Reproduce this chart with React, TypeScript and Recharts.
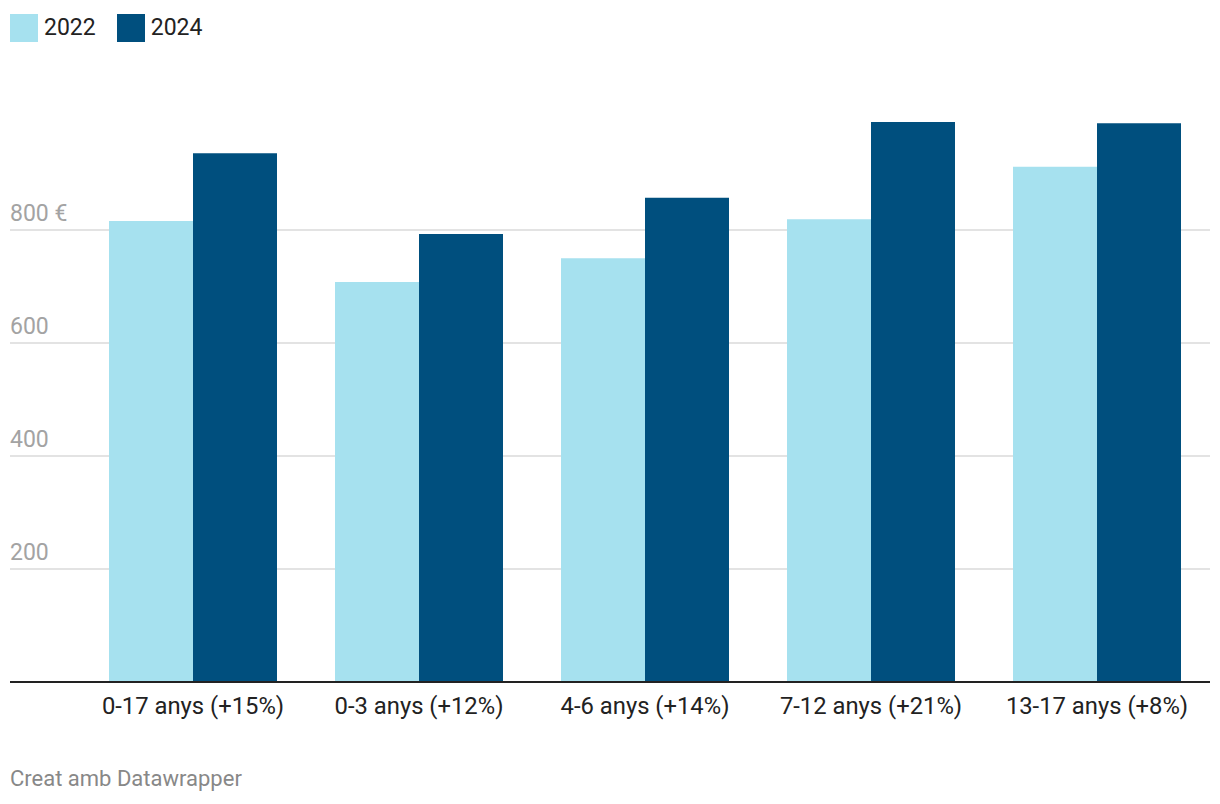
import React from 'react';
import { BarChart, Bar, XAxis, YAxis, CartesianGrid } from 'recharts';

const categories = ['0-17 anys (+15%)', '0-3 anys (+12%)', '4-6 anys (+14%)', '7-12 anys (+21%)', '13-17 anys (+8%)'];
const values2022 = [816, 708, 750, 819, 912];
const values2024 = [936, 793, 857, 991, 989];
const yDomain = [0, 1000];
const yTicks = [0, 200, 400, 600, 800];
const yTickLabels = ['', '200', '400', '600', '800 €'];

const series = [
  { key: 'y2022', name: '2022', color: '#a6e1ef' },
  { key: 'y2024', name: '2024', color: '#004f7e' },
];

const data = categories.map((c, i) => ({ name: c, y2022: values2022[i], y2024: values2024[i] }));

const FONT = 'Roboto, "Noto Sans", sans-serif';

const renderYTick = (props: any) => {
  const { y, payload } = props;
  const idx = yTicks.indexOf(payload.value);
  return (
    <text key={`yt-${payload.value}`} x={10} y={y - 9} fill="#a3a3a3" fontSize={23} fontFamily={FONT} textAnchor="start">
      {yTickLabels[idx] ?? ''}
    </text>
  );
};

const renderXTick = (props: any) => {
  const { x, y, payload } = props;
  return (
    <text key={`xt-${payload.value}`} x={x} y={y + 32} fill="#222" fontSize={23.8} fontFamily={FONT} textAnchor="middle">
      {payload.value}
    </text>
  );
};

// gridlines only at the labelled ticks, behind the bars
const gridRows = ({ offset }: any) =>
  yTicks
    .filter((v) => v > 0)
    .map((v) => offset.top + offset.height * (1 - (v - yDomain[0]) / (yDomain[1] - yDomain[0])));

export default function App() {
  return (
    <div style={{ position: 'absolute', left: 0, top: 0, width: 1220, height: 804, background: '#fff', fontFamily: FONT }}>
      <div style={{ position: 'absolute', left: 10, top: 14, display: 'flex', alignItems: 'center', color: '#222', fontSize: 23 }}>
        {series.map((s) => (
          <div key={s.key} style={{ display: 'flex', alignItems: 'center', marginRight: 21 }}>
            <div style={{ width: 28, height: 28, background: s.color, marginRight: 6 }} />
            <span style={{ lineHeight: '28px' }}>{s.name}</span>
          </div>
        ))}
      </div>
      <BarChart
        width={1220}
        height={804}
        data={data}
        margin={{ top: 117, right: 10, bottom: 82, left: 9 }}
        barCategoryGap={29}
        barGap={0}
      >
        <CartesianGrid vertical={false} horizontalCoordinatesGenerator={gridRows} stroke="#e3e3e3" strokeWidth={2} />
        <YAxis
          type="number"
          domain={yDomain}
          ticks={yTicks}
          width={1}
          axisLine={false}
          tickLine={false}
          tick={renderYTick}
          interval={0}
        />
        <XAxis
          dataKey="name"
          height={40}
          padding={{ left: 70, right: 0 }}
          axisLine={{ stroke: '#222', strokeWidth: 2 }}
          tickLine={false}
          tickSize={0}
          tickMargin={0}
          tick={renderXTick}
          interval={0}
        />
        {series.map((s) => (
          <Bar key={s.key} dataKey={s.key} name={s.name} fill={s.color} isAnimationActive={false} />
        ))}
      </BarChart>
      <div style={{ position: 'absolute', left: 10, top: 766, color: '#888', fontSize: 22 }}>Creat amb Datawrapper</div>
    </div>
  );
}
